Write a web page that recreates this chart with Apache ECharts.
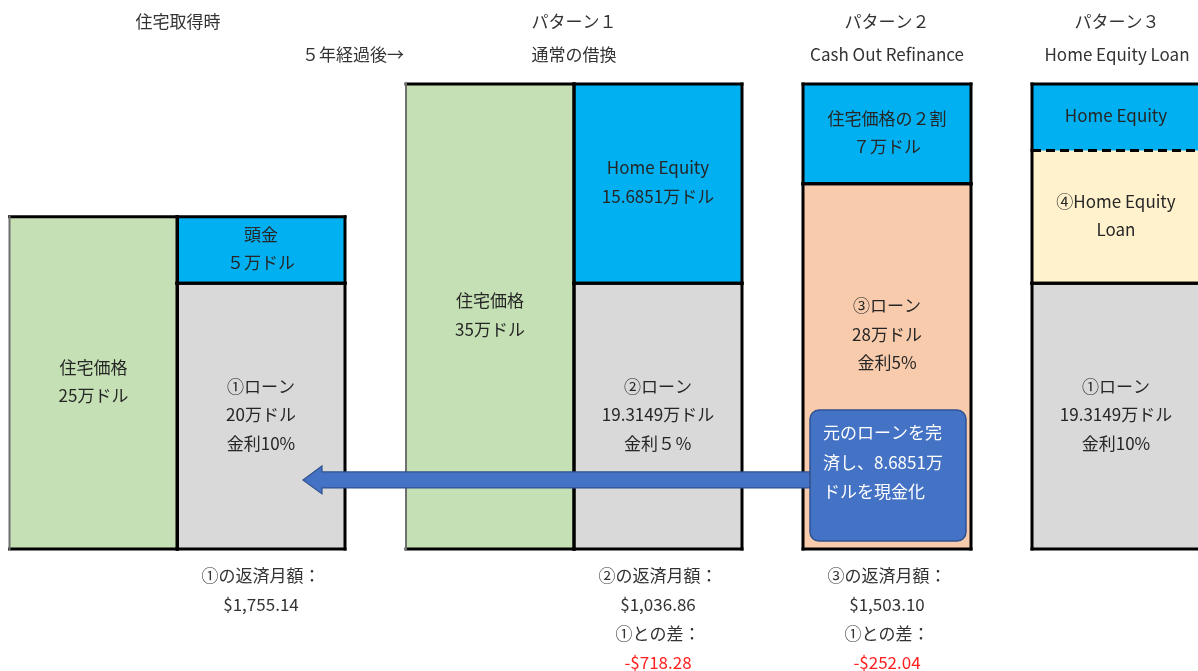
<!DOCTYPE html>
<html><head><meta charset="utf-8">
<script src="https://cdn.jsdelivr.net/npm/echarts@6/dist/echarts.min.js"></script>
<style>html,body{margin:0;padding:0;background:#fff}#c{width:1198px;height:671px}</style>
</head><body><div id="c"></div>
<script>
// ---- data (万ドル; segment heights as drawn in the picture, bottom to top) ----
const columns = ['取得時・住宅価格', '取得時・内訳', 'パターン1・住宅価格', 'パターン1・内訳', 'パターン2・内訳', 'パターン3・内訳'];
const housePurchase = [25];          // col 0
const purchaseSplit = [20, 5];       // col 1: ①ローン, 頭金
const houseAfter5y = [35];           // col 2
const p1Split = [20, 15];            // col 3: ②ローン, Home Equity
const p2Split = [27.5, 7.5];         // col 4: ③ローン, 住宅価格の２割
const p3Split = [20, 10, 5];         // col 5: ①ローン, ④HEL, Home Equity
const cashOutValue = 5.2;            // arrow level
const noteBoxRange = [0.6, 10.46];   // text box vertical range

const segLabels = [
  [['住宅価格', '25万ドル']],
  [['①ローン', '20万ドル', '金利10%'], ['頭金', '５万ドル']],
  [['住宅価格', '35万ドル']],
  [['②ローン', '19.3149万ドル', '金利５％'], ['Home Equity', '15.6851万ドル']],
  [['③ローン', '28万ドル', '金利5%'], ['住宅価格の２割', '７万ドル']],
  [['①ローン', '19.3149万ドル', '金利10%'], ['④Home Equity', 'Loan'], ['Home Equity']]
];
const headers = [
  ['住宅取得時'], ['５年経過後→'], ['パターン１', '通常の借換'], ['パターン２', 'Cash Out Refinance'], ['パターン３', 'Home Equity Loan']
];
const notes = [
  [1, ['①の返済月額：', '$1,755.14']],
  [3, ['②の返済月額：', '$1,036.86', '①との差：', '-$718.28']],
  [4, ['③の返済月額：', '$1,503.10', '①との差：', '-$252.04']]
];
const cashOutText = ['元のローンを完', '済し、8.6851万', 'ドルを現金化'];

// ---- layout / style ----
const colX = [93.5, 261, 490, 658, 887, 1116];
const colW = 168;
const GREEN = '#C5E0B4', BLUE = '#00B0F0', GRAY = '#D9D9D9', PEACH = '#F8CBAD', YELLOW = '#FFF2CC';
const colFills = [[GREEN], [GRAY, BLUE], [GREEN], [GRAY, BLUE], [PEACH, BLUE], [GRAY, YELLOW, BLUE]];
const FONT = '"Noto Sans CJK JP", "Noto Sans", sans-serif';
const stacks = [housePurchase, purchaseSplit, houseAfter5y, p1Split, p2Split, p3Split];

const segData = [];
stacks.forEach((arr, c) => {
  let base = 0;
  arr.forEach((v, i) => {
    segData.push({ value: [colX[c], base, base + v, c, i] });
    base += v;
  });
});

const chart = echarts.init(document.getElementById('c'));

function line(x1, y1, x2, y2, stroke, w, dash) {
  return { type: 'line', z2: 10, shape: { x1, y1, x2, y2 },
    style: { stroke, lineWidth: w, lineDash: dash || null, lineCap: dash ? 'butt' : 'square' } };
}

chart.setOption({
  animation: false,
  grid: { left: 0, right: 0, top: 0, bottom: 0 },
  xAxis: { type: 'value', min: 0, max: 1198, show: false },
  yAxis: { type: 'value', min: -9.18, max: 41.32, show: false },
  series: [
    {
      type: 'custom', z: 2,
      data: segData,
      renderItem: function (params, api) {
        const x = api.value(0), y0 = api.value(1), y1 = api.value(2);
        const c = api.value(3), i = api.value(4);
        const tl = api.coord([x - colW / 2, y1]);
        const br = api.coord([x + colW / 2, y0]);
        const w = br[0] - tl[0], h = br[1] - tl[1];
        const fill = colFills[c][i];
        const lbl = segLabels[c][i];
        const isGreen = fill === GREEN;
        const dashTop = (c === 5 && i === 1);
        const dashBottom = (c === 5 && i === 2);
        let dy = -1.5;
        if (c === 4 && i === 0) dy = -32;
        const children = [
          { type: 'rect', z2: 0, shape: { x: tl[0], y: tl[1], width: w, height: h }, style: { fill: fill } },
          line(tl[0], tl[1], br[0], tl[1], '#000', 3, dashTop ? [9, 5] : null),
          line(tl[0], br[1], br[0], br[1], '#000', 3, dashBottom ? [9, 5] : null),
          line(tl[0], tl[1], tl[0], br[1], isGreen ? '#6f6f6f' : '#000', isGreen ? 2 : 3),
          line(br[0], tl[1], br[0], br[1], '#000', 3),
          { type: 'text', z2: 20, style: {
              x: tl[0] + w / 2, y: tl[1] + h / 2 + dy,
              text: lbl.join('\n'), align: 'center', verticalAlign: 'middle',
              font: '17px ' + FONT, lineHeight: 28.5, fill: '#262626' } }
        ];
        return { type: 'group', children };
      }
    },
    {
      type: 'custom', z: 3,
      data: [[810, 303, cashOutValue]],
      renderItem: function (params, api) {
        const a = api.coord([api.value(0), api.value(2)]);
        const b = api.coord([api.value(1), api.value(2)]);
        const y = a[1], bh = 8, hh = 14, hl = 19;
        const pts = [[a[0], y - bh], [b[0] + hl, y - bh], [b[0] + hl, y - hh], [b[0], y],
                     [b[0] + hl, y + hh], [b[0] + hl, y + bh], [a[0], y + bh]];
        return { type: 'polygon', shape: { points: pts },
          style: { fill: '#4472C4', stroke: '#2F528F', lineWidth: 1.2 } };
      }
    },
    {
      type: 'custom', z: 4,
      data: [[810, 966, noteBoxRange[0], noteBoxRange[1]]],
      renderItem: function (params, api) {
        const tl = api.coord([api.value(0), api.value(3)]);
        const br = api.coord([api.value(1), api.value(2)]);
        return { type: 'group', children: [
          { type: 'rect', shape: { x: tl[0], y: tl[1], width: br[0] - tl[0], height: br[1] - tl[1], r: 9 },
            style: { fill: '#4472C4', stroke: '#2F528F', lineWidth: 1.5 } },
          { type: 'text', style: { x: tl[0] + 13, y: tl[1] + 8, text: cashOutText.join('\n'),
              align: 'left', verticalAlign: 'top', font: '17px ' + FONT, lineHeight: 29.5, fill: '#fff' } }
        ] };
      }
    },
    {
      type: 'custom', z: 5,
      data: notes.map(n => ({ value: [colX[n[0]], 0, notes.indexOf(n)] })),
      renderItem: function (params, api) {
        const p = api.coord([api.value(0), api.value(1)]);
        const lines = notes[api.value(2)][1];
        const children = lines.map((t, k) => ({
          type: 'text', style: { x: p[0], y: p[1] + 27 + k * 29, text: t, align: 'center', verticalAlign: 'middle',
            font: '17px ' + FONT, fill: t.charAt(0) === '-' ? '#FF2020' : '#333' } }));
        return { type: 'group', children };
      }
    }
  ],
  graphic: [
    ...[[178, 22, 0], [353, 55, 1], [574, 22, 2], [887, 22, 3], [1117, 22, 4]].map(h => ({
      type: 'group', children: headers[h[2]].map((t, k) => ({
        type: 'text', x: h[0], y: h[1] + k * 33,
        style: { text: t, align: 'center', verticalAlign: 'middle', font: '17px ' + FONT, fill: '#333' } }))
    }))
  ]
});
</script></body></html>
